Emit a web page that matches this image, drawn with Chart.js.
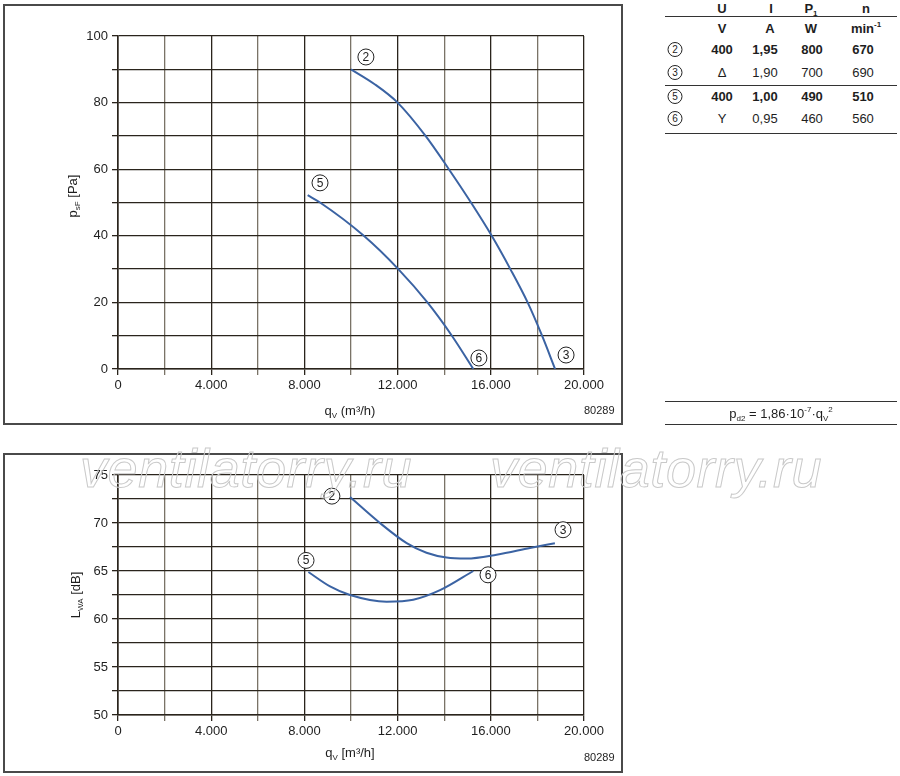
<!DOCTYPE html>
<html>
<head>
<meta charset="utf-8">
<script src="https://cdn.jsdelivr.net/npm/chart.js@4"></script>
<style>
  body { margin:0; width:900px; height:776px; background:#fff; position:relative; overflow:hidden;
         font-family:"Liberation Sans", Arial, sans-serif; color:#1e1e1e; }
  .frame { position:absolute; border:2px solid #4a4a4a; box-sizing:border-box; }
  canvas { position:absolute; }
  .t { position:absolute; font-size:13px; white-space:nowrap; transform:translate(-50%,-50%); }
  .b { font-weight:bold; }
  .ytitle { position:absolute; font-size:13px; white-space:nowrap; transform:translate(-50%,-50%) rotate(-90deg); }
  sub, sup { font-size:8px; line-height:0; }
  .rule { position:absolute; left:665px; width:232px; height:0; border-top:1.5px solid #333; }
  .circ { display:inline-block; width:13px; height:13px; border:1px solid #222; border-radius:50%;
          font-size:10px; line-height:13px; text-align:center; font-weight:normal; }
  .wm { position:absolute; font-size:54px; line-height:54px; font-style:italic; color:transparent;
        letter-spacing:0.6px; -webkit-text-stroke:1px #c9c9c9; white-space:nowrap; z-index:5; }
  .code { position:absolute; font-size:11px; }
</style>
</head>
<body>
<div class="frame" style="left:3px;top:4px;width:620px;height:421px"></div>
<div class="frame" style="left:3px;top:453px;width:620px;height:320px"></div>
<canvas id="top" width="625" height="428" style="left:0;top:0"></canvas>
<canvas id="bot" width="625" height="322" style="left:0;top:452px"></canvas>

<div class="ytitle" style="left:72px;top:196px">p<sub>sF</sub> [Pa]</div>
<div class="t" style="left:350px;top:410px">q<sub>V</sub> (m³/h)</div>
<div class="code" style="left:584px;top:404px">80289</div>

<div class="ytitle" style="left:75px;top:595px">L<sub>WA</sub> [dB]</div>
<div class="t" style="left:350px;top:752px">q<sub>V</sub> [m³/h]</div>
<div class="code" style="left:584px;top:751px">80289</div>

<div class="wm" style="left:80px;top:441px">ventilatorry.ru</div>
<div class="wm" style="left:490px;top:441px">ventilatorry.ru</div>

<!-- table -->
<div class="t b" style="left:722px;top:8px">U</div>
<div class="t b" style="left:771px;top:8px">I</div>
<div class="t b" style="left:811px;top:8px">P<sub>1</sub></div>
<div class="t b" style="left:866px;top:8px">n</div>
<div class="rule" style="top:16px"></div>
<div class="t b" style="left:722px;top:28px">V</div>
<div class="t b" style="left:770px;top:28px">A</div>
<div class="t b" style="left:811px;top:28px">W</div>
<div class="t b" style="left:866px;top:28px">min<sup>-1</sup></div>

<div class="t" style="left:675px;top:49px"><span class="circ">2</span></div>
<div class="t b" style="left:722px;top:49px">400</div>
<div class="t b" style="left:765px;top:49px">1,95</div>
<div class="t b" style="left:812px;top:49px">800</div>
<div class="t b" style="left:863px;top:49px">670</div>

<div class="t" style="left:675px;top:72px"><span class="circ">3</span></div>
<div class="t" style="left:722px;top:72px">Δ</div>
<div class="t" style="left:765px;top:72px">1,90</div>
<div class="t" style="left:812px;top:72px">700</div>
<div class="t" style="left:863px;top:72px">690</div>
<div class="rule" style="top:85px"></div>

<div class="t" style="left:675px;top:96px"><span class="circ">5</span></div>
<div class="t b" style="left:722px;top:96px">400</div>
<div class="t b" style="left:765px;top:96px">1,00</div>
<div class="t b" style="left:812px;top:96px">490</div>
<div class="t b" style="left:863px;top:96px">510</div>

<div class="t" style="left:675px;top:118px"><span class="circ">6</span></div>
<div class="t" style="left:722px;top:118px">Y</div>
<div class="t" style="left:765px;top:118px">0,95</div>
<div class="t" style="left:812px;top:118px">460</div>
<div class="t" style="left:863px;top:118px">560</div>
<div class="rule" style="top:133px"></div>

<div class="rule" style="top:401px"></div>
<div class="t" style="left:781px;top:413px">p<sub>d2</sub> = 1,86·10<sup>-7</sup>·q<sub>V</sub><sup>2</sup></div>
<div class="rule" style="top:424px"></div>

<script>
// pressure curves (q in m3/h, p in Pa)
const q23p = [10000, 11000, 12000, 13200, 14200, 15150, 16040, 16840, 17580, 18200, 18760];
const p23  = [90, 85.6, 80, 70, 60, 50, 40, 30, 20, 10, 0];
const q56p = [8140, 8670, 10550, 12030, 13280, 14330, 15250];
const p56  = [52.2, 50, 40, 30, 20, 10, 0];

// sound power curves (q in m3/h, L in dB)
const q23s = [9960, 11240, 12390, 13240, 14100, 14960, 16250, 17680, 18750];
const L23  = [72.7, 70.0, 67.9, 66.9, 66.4, 66.3, 66.7, 67.4, 67.9];
const q56s = [8170, 9100, 9960, 11530, 12670, 13820, 15250];
const L56  = [64.9, 63.4, 62.5, 61.8, 62.0, 63.0, 65.0];

// operating point tags
const tagNames = ['2', '3', '5', '6'];
const topTagQ = [10640, 19230, 8670, 15490];
const topTagP = [93.7, 4.2, 55.9, 3.3];
const botTagQ = [9180, 19100, 8070, 15880];
const botTagL = [72.8, 69.3, 66.1, 64.6];

const xTicks = [0, 4000, 8000, 12000, 16000, 20000];

const blue = '#3b63a3';
const dark = '#2a241c';
const grey = '#7a7367';

function pts(xs, ys) { return xs.map((x, i) => ({ x: x, y: ys[i] })); }
function fmtQ(v) { return v === 0 ? '0' : (v / 1000) + '.000'; }

function tagPlugin(qs, vs) {
  return {
    id: 'tags',
    afterDatasetsDraw(chart) {
      const c = chart.ctx, sx = chart.scales.x, sy = chart.scales.y;
      c.save();
      tagNames.forEach((n, i) => {
        const px = sx.getPixelForValue(qs[i]), py = sy.getPixelForValue(vs[i]);
        c.beginPath();
        c.arc(px, py, 8, 0, Math.PI * 2);
        c.fillStyle = '#fff';
        c.fill();
        c.lineWidth = 1;
        c.strokeStyle = '#222';
        c.stroke();
        c.fillStyle = '#222';
        c.font = '12px "Liberation Sans", Arial';
        c.textAlign = 'center';
        c.textBaseline = 'middle';
        c.fillText(n, px, py + 0.5);
      });
      c.restore();
    }
  };
}

function makeChart(id, sets, yMin, yMax, yStep, yMajor, padTop, qs, vs) {
  return new Chart(document.getElementById(id), {
    type: 'line',
    data: {
      datasets: sets.map(d => ({
        data: d, borderColor: blue, borderWidth: 2, pointRadius: 0,
        cubicInterpolationMode: 'monotone', fill: false
      }))
    },
    options: {
      responsive: false,
      animation: false,
      devicePixelRatio: 1,
      layout: { padding: { left: 0, top: padTop, right: 41, bottom: 0 } },
      plugins: { legend: { display: false }, tooltip: { enabled: false } },
      scales: {
        x: {
          type: 'linear', min: 0, max: 20000,
          afterBuildTicks: s => { s.ticks = []; for (let v = 0; v <= 20000; v += 2000) s.ticks.push({ value: v }); },
          afterFit: s => { s.height = 59; },
          ticks: {
            autoSkip: false, maxRotation: 0, padding: 3, color: '#1e1e1e',
            font: { family: '"Liberation Sans", Arial', size: 13 },
            callback: v => xTicks.includes(v) ? fmtQ(v) : ''
          },
          grid: {
            tickLength: 6, lineWidth: 1.3,
            color: c => (c.tick && c.tick.value % 4000 === 0) ? dark : grey
          },
          border: { color: dark, width: 1.6 }
        },
        y: {
          min: yMin, max: yMax,
          ticks: {
            stepSize: yStep, padding: 4, color: '#1e1e1e',
            font: { family: '"Liberation Sans", Arial', size: 13 },
            callback: v => (Math.abs(v % yMajor) < 1e-6) ? v : ''
          },
          afterFit: s => { s.width = 118; },
          grid: { tickLength: 6, lineWidth: 1.3, color: dark },
          border: { color: dark, width: 1.6 }
        }
      }
    },
    plugins: [tagPlugin(qs, vs)]
  });
}

makeChart('top', [pts(q23p, p23), pts(q56p, p56)], 0, 100, 10, 20, 36, topTagQ, topTagP);
makeChart('bot', [pts(q23s, L23), pts(q56s, L56)], 50, 75, 2.5, 5, 23, botTagQ, botTagL);
</script>
</body>
</html>
